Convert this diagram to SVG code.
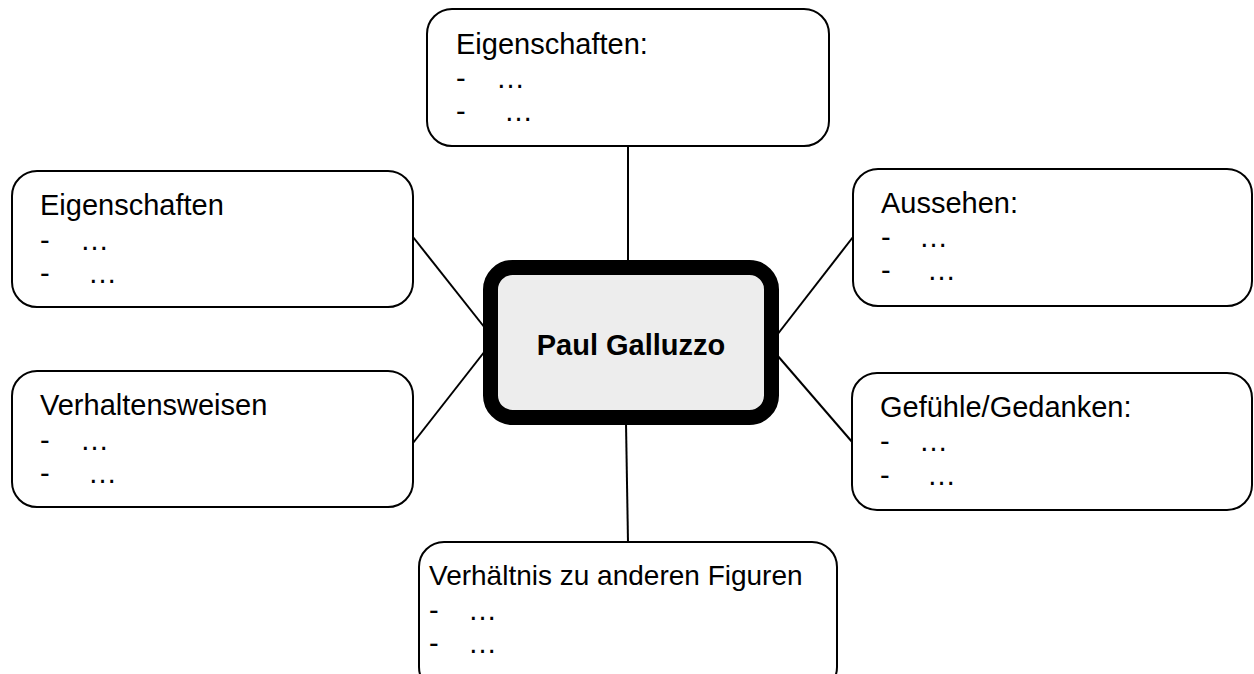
<svg xmlns="http://www.w3.org/2000/svg" width="1254" height="674" viewBox="0 0 1254 674">
<style>
.box{fill:#fff;stroke:#000;stroke-width:2}
.center{fill:#EDEDED;stroke:#000;stroke-width:15}
.t{font-family:"Liberation Sans",Arial,sans-serif;font-size:29px;fill:#000}
.s{font-size:28px}
.b{font-family:"Liberation Sans",Arial,sans-serif;font-size:29px;font-weight:bold;fill:#000}
.conn line{stroke:#000;stroke-width:2}
</style>
<rect width="1254" height="674" fill="#fff"/>
<g id="connectors" class="conn">
<line x1="628" y1="146" x2="628" y2="262"/>
<line x1="626" y1="423" x2="628" y2="542"/>
<line x1="413" y1="237" x2="485" y2="328"/>
<line x1="413" y1="443" x2="485" y2="351"/>
<line x1="853" y1="237" x2="777" y2="335"/>
<line x1="853" y1="443" x2="777" y2="355"/>
</g>
<g id="n-top">
<rect class="box" x="427" y="9" width="402" height="137" rx="25"/>
<text class="t" x="456" y="54">Eigenschaften:</text>
<text class="t" x="456" y="88">-</text><text class="t" x="496" y="88">…</text>
<text class="t" x="456" y="121">-</text><text class="t" x="504" y="121">…</text>
</g>
<g id="n-left-top">
<rect class="box" x="12" y="171" width="401" height="136" rx="25"/>
<text class="t" x="40" y="215">Eigenschaften</text>
<text class="t" x="40" y="250">-</text><text class="t" x="80" y="250">…</text>
<text class="t" x="40" y="283">-</text><text class="t" x="88" y="283">…</text>
</g>
<g id="n-right-top">
<rect class="box" x="853" y="169" width="399" height="137" rx="25"/>
<text class="t" x="881" y="213">Aussehen:</text>
<text class="t" x="881" y="247">-</text><text class="t" x="919" y="247">…</text>
<text class="t" x="881" y="280">-</text><text class="t" x="927" y="280">…</text>
</g>
<g id="n-left-mid">
<rect class="box" x="12" y="371" width="401" height="136" rx="25"/>
<text class="t" x="40" y="415">Verhaltensweisen</text>
<text class="t" x="40" y="450">-</text><text class="t" x="80" y="450">…</text>
<text class="t" x="40" y="483">-</text><text class="t" x="88" y="483">…</text>
</g>
<g id="n-right-mid">
<rect class="box" x="852" y="373" width="400" height="137" rx="25"/>
<text class="t" x="880" y="417">Gefühle/Gedanken:</text>
<text class="t" x="880" y="451">-</text><text class="t" x="919" y="451">…</text>
<text class="t" x="880" y="485">-</text><text class="t" x="927" y="485">…</text>
</g>
<g id="n-bottom">
<rect class="box" x="419" y="542" width="418" height="150" rx="25"/>
<text class="t s" x="429" y="585">Verhältnis zu anderen Figuren</text>
<text class="t" x="429" y="620">-</text><text class="t" x="468" y="620">…</text>
<text class="t" x="429" y="653">-</text><text class="t" x="468" y="653">…</text>
</g>
<g id="n-center">
<rect class="center" x="490.5" y="267.5" width="281" height="150" rx="22"/>
<text class="b" x="631" y="355" text-anchor="middle">Paul Galluzzo</text>
</g>
</svg>
